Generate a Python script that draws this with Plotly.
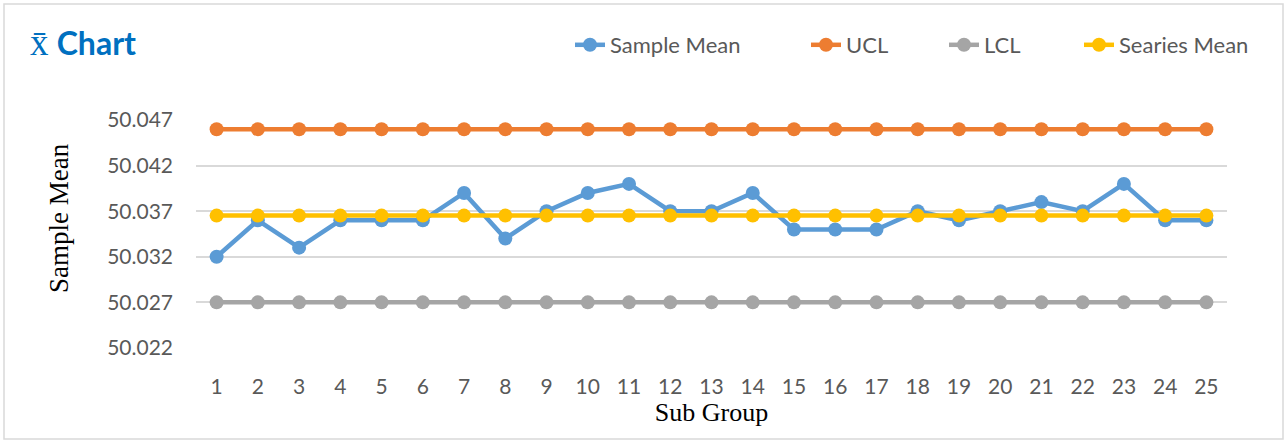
import plotly.graph_objects as go

sub_groups = list(range(1, 26))
sample_mean = [50.032, 50.036, 50.033, 50.036, 50.036, 50.036, 50.039, 50.034, 50.037, 50.039,
               50.040, 50.037, 50.037, 50.039, 50.035, 50.035, 50.035, 50.037, 50.036, 50.037,
               50.038, 50.037, 50.040, 50.036, 50.036]
series_mean_value = sum(sample_mean) / len(sample_mean)
ucl = [50.046] * 25
lcl = [50.027] * 25
series_mean = [series_mean_value] * 25
y_ticks = [50.022, 50.027, 50.032, 50.037, 50.042, 50.047]
y_tick_labels = ["50.022", "50.027", "50.032", "50.037", "50.042", "50.047"]

W, H = 1285, 441
L, R, T, B = 196, 58, 120, 93

series = [
    ("Sample Mean", sample_mean, "#5B9BD5", "legend", 612),
    ("UCL", ucl, "#ED7D31", "legend2", 848),
    ("LCL", lcl, "#A5A5A5", "legend3", 986),
    ("Searies Mean", series_mean, "#FFC000", "legend4", 1121),
]

fig = go.Figure()
legends = {}
for name, vals, col, lg, text_x in series:
    fig.add_trace(go.Scatter(
        x=sub_groups, y=vals, name=name, mode="lines+markers",
        line=dict(color=col, width=4.5),
        marker=dict(color=col, size=14),
        legend=lg,
    ))
    legends[lg] = dict(
        orientation="h", xref="container", yref="container",
        x=(text_x - 42) / W, xanchor="left", y=1 - 45 / H, yanchor="middle",
        font=dict(family="Lato", size=22, color="#595959"),
        bgcolor="rgba(0,0,0,0)",
    )

pw, ph = W - L - R, H - T - B

fig.update_layout(
    width=W, height=H,
    margin=dict(l=L, r=R, t=T, b=B, autoexpand=False),
    paper_bgcolor="white", plot_bgcolor="white",
    font=dict(family="Lato", color="#595959"),
    title=dict(
        text="<span style='font-family:Liberation Serif;font-weight:normal;font-size:37px'>x̄</span> <b>Chart</b>",
        font=dict(family="Lato", size=32, color="#0070C0"),
        xref="container", yref="container",
        x=30 / W, xanchor="left", y=1 - 44 / H, yanchor="middle",
    ),
    xaxis=dict(
        range=[0.5, 25.5], tickmode="array", tickvals=sub_groups,
        ticktext=[str(s) for s in sub_groups],
        showgrid=False, zeroline=False, showline=False,
        tickfont=dict(family="Lato", size=21, color="#595959"),
        ticklabelstandoff=24,
        title=dict(text="Sub Group", font=dict(family="Liberation Serif", size=26, color="black"), standoff=2),
        ticks="", ticklen=0,
    ),
    yaxis=dict(
        range=[50.02199, 50.04701], tickmode="array", tickvals=y_ticks, ticktext=y_tick_labels,
        showgrid=True, gridcolor="#D9D9D9", gridwidth=1.5, zeroline=False, showline=False,
        tickfont=dict(family="Lato", size=21, color="#595959"),
        ticklabelstandoff=22,
        ticks="", ticklen=0,
    ),
    annotations=[dict(
        text="Sample Mean", textangle=-90, showarrow=False,
        xref="paper", yref="paper", x=(59 - L) / pw, y=(H - B - 218) / ph,
        xanchor="center", yanchor="middle",
        font=dict(family="Liberation Serif", size=27, color="black"),
    )],
    showlegend=True,
    **legends,
)

fig.add_shape(type="rect", xref="paper", yref="paper",
              x0=(4 - L) / pw, x1=(W - 2 - L) / pw,
              y0=(H - B - (H - 2)) / ph, y1=(H - B - 4) / ph,
              line=dict(color="#D9D9D9", width=1.5), fillcolor="rgba(0,0,0,0)", layer="below")

fig.write_html("out.html", config={"displayModeBar": False},
               post_script="document.body.style.margin='0';")
